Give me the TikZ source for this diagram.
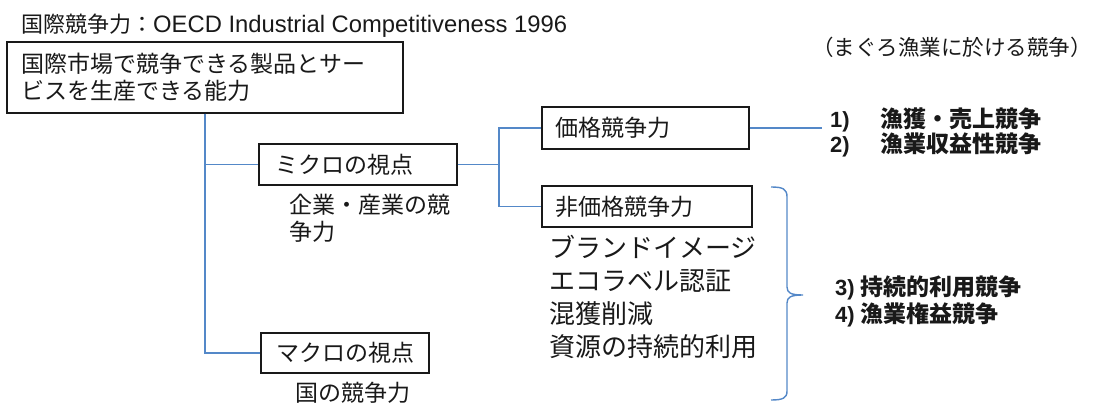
\documentclass[tikz,border=0pt]{standalone}
\usepackage{fontspec}
\setmainfont{Liberation Sans}
\newfontfamily\jp{Noto Sans CJK JP}
\definecolor{conncol}{RGB}{84,136,200}
\definecolor{inkcol}{RGB}{25,25,25}
\tikzset{
  conn/.style={draw=conncol, line width=1.4pt},
  boxnode/.style={draw=inkcol, line width=1.3pt, fill=white, text=inkcol, inner ysep=0pt},
  txt/.style={text=inkcol, inner sep=0pt, anchor=west, align=left},
}
\begin{document}
\begin{tikzpicture}[x=1pt,y=-1pt]
\useasboundingbox (0,0) rectangle (1095,403);
% title
\node[txt, font=\fontsize{23.8}{26}\selectfont] (title) at (21,26) {{\jp\fontsize{22}{26}\selectfont 国際競争力：}OECD Industrial Competitiveness 1996};
\node[txt, font=\jp\fontsize{21.5}{26}\selectfont] (tuna) at (812,47) {（まぐろ漁業に於ける競争）};
% boxes
\node[boxnode, font=\jp\fontsize{23}{27}\selectfont, inner xsep=14pt, text width=368pt, minimum height=71pt, align=left] (top) at (205,77.5) {国際市場で競争できる製品とサー\\ビスを生産できる能力};
\node[boxnode, font=\jp\fontsize{23}{27}\selectfont, inner xsep=16pt, text width=166pt, minimum height=41pt, align=left] (micro) at (358,164.5) {ミクロの視点};
\node[boxnode, font=\jp\fontsize{23}{27}\selectfont, minimum width=168pt, minimum height=40pt] (macro) at (345,353) {マクロの視点};
\node[boxnode, font=\jp\fontsize{23}{27}\selectfont, inner xsep=13pt, text width=181pt, minimum height=42pt, align=left] (price) at (645.5,128) {価格競争力};
\node[boxnode, font=\jp\fontsize{23}{27}\selectfont, inner xsep=13pt, text width=184pt, minimum height=41pt, align=left] (nonprice) at (647,206.5) {非価格競争力};
% labels
\node[txt, font=\jp\fontsize{23}{27}\selectfont] (microlbl) at (289,218.5) {企業・産業の競\\争力};
\node[txt, font=\jp\fontsize{23}{27}\selectfont] (macrolbl) at (295,393) {国の競争力};
\node[txt, font=\jp\fontsize{26}{32.7}\selectfont] (list) at (549,297) {ブランドイメージ\\エコラベル認証\\混獲削減\\資源の持続的利用};
\node[txt, font=\bfseries\fontsize{22}{25}\selectfont] (res12) at (830,132.5) {\makebox[50pt][l]{1)}{\jp\fontsize{23}{25}\selectfont 漁獲・売上競争}\\\makebox[50pt][l]{2)}{\jp\fontsize{23}{25}\selectfont 漁業収益性競争}};
\node[txt, font=\bfseries\fontsize{22}{27}\selectfont] (res34) at (835,301.5) {3) {\jp\fontsize{23}{27}\selectfont 持続的利用競争}\\4) {\jp\fontsize{23}{27}\selectfont 漁業権益競争}};
% connectors
\coordinate (fork) at (499,164.5);
\coordinate (pend) at (822,128);
\draw[conn] (top.south) |- (micro.west);
\draw[conn] (top.south) |- (macro.west);
\draw[conn] (micro.east) -- (fork);
\draw[conn] (fork) |- (price.west);
\draw[conn] (fork) |- (nonprice.west);
\draw[conn] (price.east) -- (pend);
% brace
\draw[conn] (771,187) .. controls (783,187) and (787,189) .. (787,197) -- (787,287)
  .. controls (787,293) and (791,295) .. (803,295)
  .. controls (791,295) and (787,297) .. (787,303) -- (787,391)
  .. controls (787,398) and (783,400) .. (771,400);
\end{tikzpicture}
\end{document}
